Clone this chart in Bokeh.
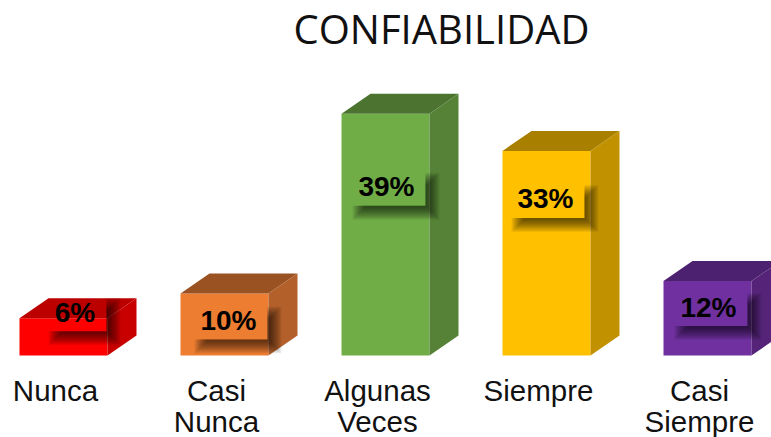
from bokeh.embed import file_html
from bokeh.resources import INLINE
from bokeh.plotting import figure
from bokeh.models import ColumnDataSource, Range1d
from bokeh.core.properties import value

# ---- data ----
categories = ["Nunca", "Casi\nNunca", "Algunas\nVeces", "Siempre", "Casi\nSiempre"]
percent = [6, 10, 39, 33, 12]
title_text = "CONFIABILIDAD"

# ---- styles ----
front_colors = ["#FF0000", "#ED7D31", "#70AD47", "#FFC000", "#7030A0"]
top_colors = ["#BC0000", "#9A5222", "#4C7430", "#A97F00", "#4B2170"]
side_colors = ["#C80000", "#B3602A", "#558236", "#C29100", "#552479"]

# ---- layout (pixels) ----
W, H = 771, 437
SLOT = 161.0          # px between categories
UNIT = 6.2            # px per percent
X0_PX = 63.0          # centre of first bar front, from figure left
BASE_PX = 355.0       # baseline, from figure top
BAR_W = 88.0
DEPTH_X, DEPTH_Y = 29.0, 20.0
label_dx = [11.5, 4, 1, -1, 1]          # data label centre vs. bar front centre
label_dy = [6, -27, -73, -48, -26]      # data label centre above the bar top
name_dx = -8                            # category text vs. bar front centre
box_hw = [31.5, 39, 39, 39, 39]
BOX_HH = 19.0
SHADOW = 7.0
SHADOW_START = 12.0
BLUR = [7, 6, 5, 4, 3, 2, 1, 0, -1, -2, -3, -4, -5]

px = 1 / SLOT
py = 1 / UNIT

p = figure(width=W, height=H, output_backend="svg", toolbar_location=None,
           x_range=Range1d(-X0_PX * px, (W - X0_PX) * px),
           y_range=Range1d(-(H - BASE_PX) * py, BASE_PX * py),
           min_border=0, outline_line_color=None, background_fill_color="white",
           border_fill_color="white")
p.axis.visible = False
p.grid.visible = False

idx = list(range(len(categories)))
hw = BAR_W / 2 * px
dx = DEPTH_X * px
dy = DEPTH_Y * py

p.quad(left=[i - hw for i in idx], right=[i + hw for i in idx],
       bottom=[0] * len(idx), top=percent, fill_color=front_colors,
       line_color=None)
p.patches(xs=[[i - hw, i + hw, i + hw + dx, i - hw + dx] for i in idx],
          ys=[[v, v, v + dy, v + dy] for v in percent],
          fill_color=top_colors, line_color=None)
p.patches(xs=[[i + hw, i + hw + dx, i + hw + dx, i + hw] for i in idx],
          ys=[[0, dy, v + dy, v] for v in percent],
          fill_color=side_colors, line_color=None)

# soft shadow of the data label boxes, as stacked translucent L shapes
lab_x = [i + d * px for i, d in zip(idx, label_dx)]
lab_y = [v + d * py for v, d in zip(percent, label_dy)]
for e in BLUR:
    xs, ys = [], []
    for cx, cy, bw in zip(lab_x, lab_y, box_hw):
        l, r = cx - bw * px, cx + bw * px
        b, t = cy - BOX_HH * py, cy + BOX_HH * py
        ol, or_ = l + (SHADOW_START - e) * px, r + (SHADOW + e) * px
        ob, ot = b - (SHADOW + e) * py, t - (SHADOW_START - e) * py
        xs.append([ol, r, r, or_, or_, ol])
        ys.append([b, b, ot, ot, ob, ob])
    p.patches(xs=xs, ys=ys, fill_color="black", fill_alpha=0.06, line_color=None)

p.text(x=lab_x, y=lab_y, text=[f"{v}%" for v in percent],
       text_font=value("Liberation Sans"), text_font_style="bold",
       text_font_size="28px", text_color="black",
       text_align="center", text_baseline="middle")

src = ColumnDataSource(dict(x=[i + name_dx * px for i in idx],
                            y=[-18 * py] * len(idx), t=categories))
p.text(x="x", y="y", text="t", source=src,
       text_font=value("Liberation Sans"), text_font_size="29.5px",
       text_color="#111111", text_align="center", text_baseline="top",
       text_line_height=0.95)

p.text(x=[(441 - X0_PX) * px], y=[(BASE_PX - 28) * py], text=[title_text],
       text_font=value("Open Sans"), text_font_size="40px", text_color="#111111",
       text_align="center", text_baseline="middle")

open("out.html", "w").write(file_html(p, INLINE))
